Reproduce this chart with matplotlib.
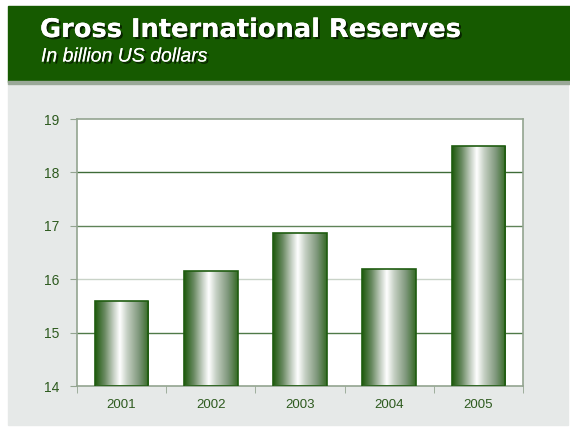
import numpy as np
import matplotlib
matplotlib.use("Agg")
import matplotlib.pyplot as plt
from matplotlib.colors import LinearSegmentedColormap
from matplotlib.patches import Rectangle
import matplotlib.patheffects as pe

years = ["2001", "2002", "2003", "2004", "2005"]
reserves = [15.6, 16.15, 16.87, 16.2, 18.5]
yticks = [14, 15, 16, 17, 18, 19]

plt.rcParams["font.family"] = ["Liberation Sans", "DejaVu Sans"]

fig = plt.figure(figsize=(5.70, 4.36), dpi=100)
fig.patch.set_facecolor("white")

# grey panel and green header band
fig.patches.append(Rectangle((8 / 570, 11 / 436), 560 / 570, 342 / 436,
                             transform=fig.transFigure, color="#e6e9e8", zorder=-5))
fig.patches.append(Rectangle((8 / 570, 354 / 436), 562 / 570, 76 / 436,
                             transform=fig.transFigure, color="#165a00", zorder=-5))
fig.patches.append(Rectangle((8 / 570, 352 / 436), 562 / 570, 2.5 / 436,
                             transform=fig.transFigure, color="#9aa898", zorder=-5))

shadow = [pe.withSimplePatchShadow(offset=(1.5, -1.5), shadow_rgbFace="black", alpha=0.6), pe.Normal()]
fig.text(40 / 570, 1 - 30 / 436, "Gross International Reserves", color="white",
         fontsize=18.5, fontweight="bold", family="DejaVu Sans",
         va="center", ha="left", path_effects=shadow)
fig.text(41 / 570, 1 - 57 / 436, "In billion US dollars", color="white",
         fontsize=14, style="italic", va="center", ha="left", path_effects=shadow)

ax = fig.add_axes([77 / 570, 1 - 386 / 436, 446 / 570, 267 / 436])
ax.set_facecolor("white")

# horizontal grid lines
grid_colors = {15: "#4f7a48", 16: "#c9d3c8", 17: "#5f8358", 18: "#3f6b38"}
for lvl, col in grid_colors.items():
    ax.axhline(lvl, color=col, lw=1.0, zorder=1)

# gradient bars
cmap = LinearSegmentedColormap.from_list("bar", [
    (0.0, "#1d5a0c"), (0.18, "#6a8a62"), (0.35, "#c8d2c6"), (0.46, "#ffffff"),
    (0.6, "#c4cfc2"), (0.82, "#7d967a"), (1.0, "#356a25")])
grad = np.linspace(0, 1, 256).reshape(1, -1)
width = 0.6
bars = ax.bar(range(len(years)), [v - 14 for v in reserves], width=width, bottom=14,
              color="none", edgecolor="#1f5c10", lw=1.2, zorder=3)
for b in bars:
    x0, y0 = b.get_x(), b.get_y()
    im = ax.imshow(grad, cmap=cmap, aspect="auto", zorder=2, origin="lower",
                   extent=[x0, x0 + b.get_width(), y0, y0 + b.get_height()])
    im.set_clip_path(b)
ax.set_xlim(-0.5, len(years) - 0.5)
ax.set_ylim(14, 19)

for s in ax.spines.values():
    s.set_color("#93a490")
    s.set_linewidth(1.2)

ax.set_yticks(yticks)
ax.set_xticks(range(len(years)))
ax.set_xticklabels(years)
ax.set_xticks(np.arange(-0.5, len(years)), minor=True)
ax.tick_params(axis="x", which="major", length=0, pad=9, labelsize=9.5, colors="#2d5a1e")
ax.tick_params(axis="x", which="minor", length=5, color="#93a490", direction="out")
ax.tick_params(axis="y", length=5, color="#93a490", pad=8, labelsize=10, labelcolor="#2d5a1e")

fig.savefig("out.png", dpi=100)
